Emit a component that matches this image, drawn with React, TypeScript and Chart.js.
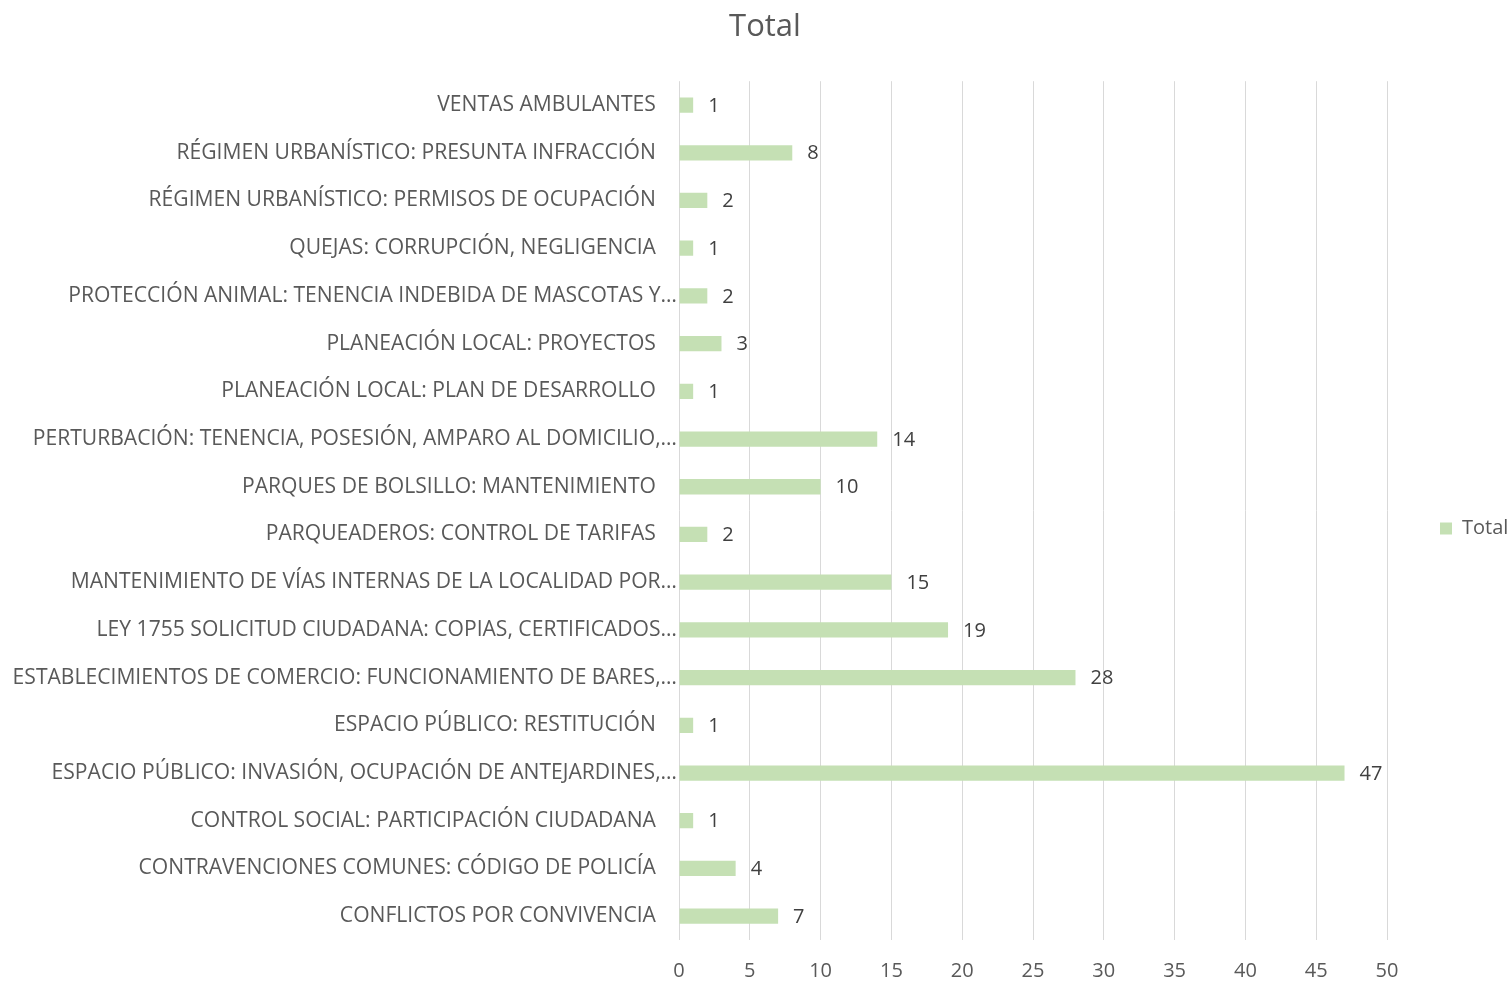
import React, { useEffect, useRef } from "react";
import { Chart, registerables } from "chart.js";

Chart.register(...registerables);

const categories: string[] = [
  "VENTAS AMBULANTES",
  "RÉGIMEN URBANÍSTICO: PRESUNTA INFRACCIÓN",
  "RÉGIMEN URBANÍSTICO: PERMISOS DE OCUPACIÓN",
  "QUEJAS: CORRUPCIÓN, NEGLIGENCIA",
  "PROTECCIÓN ANIMAL: TENENCIA INDEBIDA DE MASCOTAS Y…",
  "PLANEACIÓN LOCAL: PROYECTOS",
  "PLANEACIÓN LOCAL: PLAN DE DESARROLLO",
  "PERTURBACIÓN: TENENCIA, POSESIÓN, AMPARO AL DOMICILIO,…",
  "PARQUES DE BOLSILLO: MANTENIMIENTO",
  "PARQUEADEROS: CONTROL DE TARIFAS",
  "MANTENIMIENTO DE VÍAS INTERNAS DE LA LOCALIDAD POR…",
  "LEY 1755 SOLICITUD CIUDADANA: COPIAS, CERTIFICADOS…",
  "ESTABLECIMIENTOS DE COMERCIO: FUNCIONAMIENTO DE BARES,…",
  "ESPACIO PÚBLICO: RESTITUCIÓN",
  "ESPACIO PÚBLICO: INVASIÓN, OCUPACIÓN DE ANTEJARDINES,…",
  "CONTROL SOCIAL: PARTICIPACIÓN CIUDADANA",
  "CONTRAVENCIONES COMUNES: CÓDIGO DE POLICÍA",
  "CONFLICTOS POR CONVIVENCIA",
];

const totalValues: number[] = [1, 8, 2, 1, 2, 3, 1, 14, 10, 2, 15, 19, 28, 1, 47, 1, 4, 7];

const seriesName = "Total";
const chartTitle = "Total";
const xMin = 0;
const xMax = 50;
const xStep = 5;

const FONT = '"Open Sans", "Noto Sans", sans-serif';

const valueLabels = {
  id: "valueLabels",
  afterLayout(chart: any) {
    // let long category labels use the left padding area without being clipped
    const y = chart.scales.y;
    if (y) y.left = 0;
  },
  afterDatasetsDraw(chart: any) {
    const ctx = chart.ctx;
    ctx.save();
    ctx.font = `20px ${FONT}`;
    ctx.fillStyle = "#404040";
    ctx.textAlign = "left";
    ctx.textBaseline = "middle";
    chart.data.datasets.forEach((ds: any, di: number) => {
      const meta = chart.getDatasetMeta(di);
      meta.data.forEach((bar: any, i: number) => {
        ctx.fillText(String(ds.data[i]), bar.x + 15, bar.y + 1);
      });
    });
    ctx.restore();
  },
};

export default function App() {
  const canvasRef = useRef<HTMLCanvasElement | null>(null);

  useEffect(() => {
    document.body.style.margin = "0";
    const canvas = canvasRef.current;
    if (!canvas) return;
    Chart.defaults.font.family = FONT;
    const chart = new Chart(canvas, {
      type: "bar",
      data: {
        labels: categories,
        datasets: [
          {
            label: seriesName,
            data: totalValues,
            backgroundColor: "#C5E0B4",
            borderWidth: 0,
            categoryPercentage: 1,
            barPercentage: 0.32,
          },
        ],
      },
      options: {
        indexAxis: "y",
        animation: false,
        responsive: false,
        devicePixelRatio: 1,
        layout: { padding: { left: 20, right: 0, top: 0, bottom: 0 } },
        plugins: {
          title: {
            display: true,
            text: chartTitle,
            color: "#595959",
            font: { size: 31, weight: "normal", family: FONT },
            padding: { top: 9, bottom: 35 },
          },
          legend: {
            display: true,
            position: "right",
            maxWidth: 123,
            title: {
              display: true,
              text: " ",
              font: { size: 10 },
              padding: 32,
            },
            labels: {
              boxWidth: 12,
              boxHeight: 12,
              color: "#595959",
              font: { size: 20, family: FONT },
              padding: 53,
            },
          },
          tooltip: { enabled: false },
        },
        scales: {
          x: {
            min: xMin,
            max: xMax,
            ticks: {
              stepSize: xStep,
              color: "#595959",
              font: { size: 20, family: FONT },
              padding: 19,
            },
            grid: { color: "#d9d9d9", lineWidth: 1, drawTicks: false },
            border: { display: false },
            afterFit: (scale: any) => {
              scale.height = 41;
            },
          },
          y: {
            ticks: {
              color: "#595959",
              font: { size: 21.1, family: FONT },
              padding: 2,
              autoSkip: false,
              callback: function (this: any, value: any) {
                const label = String(this.getLabelForValue(value));
                return label.endsWith("…") ? label : label + "\u2002\u2002";
              },
            },
            grid: { display: false, drawTicks: false },
            border: { display: false },
            afterFit: (scale: any) => {
              scale.width = 659;
            },
          },
        },
      },
      plugins: [valueLabels],
    });
    return () => chart.destroy();
  }, []);

  return (
    <div style={{ width: 1510, height: 981 }}>
      <canvas ref={canvasRef} width={1510} height={981} style={{ display: "block" }} />
    </div>
  );
}
